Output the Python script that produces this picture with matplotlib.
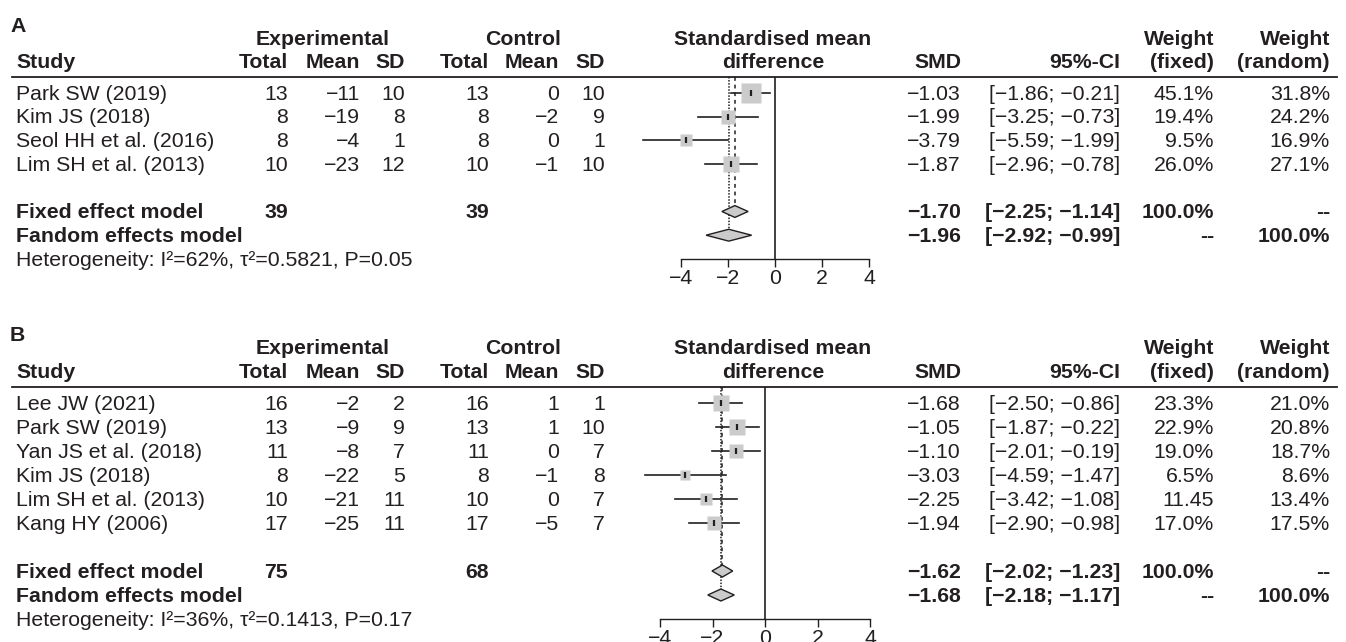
import matplotlib.pyplot as plt
import numpy as np

plt.rcParams['font.family'] = ['Liberation Sans', 'DejaVu Sans']

INK = '#231f20'
GREY = '#cbcbcb'
FS = 15.3
W, H = 1346, 642

# ---- panel A data ----
a_study = ['Park SW (2019)', 'Kim JS (2018)', 'Seol HH et al. (2016)', 'Lim SH et al. (2013)']
a_exp_n = [13, 8, 8, 10]
a_exp_mean = [-11, -19, -4, -23]
a_exp_sd = [10, 8, 1, 12]
a_ctl_n = [13, 8, 8, 10]
a_ctl_mean = [0, -2, 0, -1]
a_ctl_sd = [10, 9, 1, 10]
a_smd = [-1.03, -1.99, -3.79, -1.87]
a_lo = [-1.86, -3.25, -5.59, -2.96]
a_hi = [-0.21, -0.73, -1.99, -0.78]
a_wfix = [45.1, 19.4, 9.5, 26.0]
a_wfix_lab = ['45.1%', '19.4%', '9.5%', '26.0%']
a_wran = ['31.8%', '24.2%', '16.9%', '27.1%']
a_fixed = [-1.70, -2.25, -1.14]
a_random = [-1.96, -2.92, -0.99]
a_totals = [39, 39]
a_het = 'Heterogeneity: I\u00b2=62%, \u03c4\u00b2=0.5821, P=0.05'

# ---- panel B data ----
b_study = ['Lee JW (2021)', 'Park SW (2019)', 'Yan JS et al. (2018)', 'Kim JS (2018)',
           'Lim SH et al. (2013)', 'Kang HY (2006)']
b_exp_n = [16, 13, 11, 8, 10, 17]
b_exp_mean = [-2, -9, -8, -22, -21, -25]
b_exp_sd = [2, 9, 7, 5, 11, 11]
b_ctl_n = [16, 13, 11, 8, 10, 17]
b_ctl_mean = [1, 1, 0, -1, 0, -5]
b_ctl_sd = [1, 10, 7, 8, 7, 7]
b_smd = [-1.68, -1.05, -1.10, -3.03, -2.25, -1.94]
b_lo = [-2.50, -1.87, -2.01, -4.59, -3.42, -2.90]
b_hi = [-0.86, -0.22, -0.19, -1.47, -1.08, -0.98]
b_wfix = [23.3, 22.9, 19.0, 6.5, 11.45, 17.0]
b_wfix_lab = ['23.3%', '22.9%', '19.0%', '6.5%', '11.45', '17.0%']
b_wran = ['21.0%', '20.8%', '18.7%', '8.6%', '13.4%', '17.5%']
b_fixed = [-1.62, -2.02, -1.23]
b_random = [-1.68, -2.18, -1.17]
b_totals = [75, 68]
b_het = 'Heterogeneity: I\u00b2=36%, \u03c4\u00b2=0.1413, P=0.17'

fig = plt.figure(figsize=(W / 100, H / 100), dpi=100)


def add_ax(x0, x1, y0, y1):
    return fig.add_axes([x0 / W, 1 - y1 / H, (x1 - x0) / W, (y1 - y0) / H])


def m(v):
    return str(v).replace('-', '\u2212')


def panel(letter, row0, step, zero_px, scale, study, en, em, esd, cn, cm, csd,
          smd, lo, hi, wfix, wfix_lab, wran, fixed, random, totals, het, sq):
    n = len(study)
    r_top, r_bot = -3.5, n + 3.5
    tab = add_ax(0, W, row0 + step * r_top, row0 + step * r_bot)
    tab.set_xlim(0, W)
    tab.set_ylim(r_bot, r_top)
    tab.axis('off')

    def t(x, r, s, ha='right', bold=False):
        tab.text(x, r + 0.05, s, ha=ha, va='center', fontsize=FS, color=INK,
                 fontweight='bold' if bold else 'normal')

    # headers
    t(10, -2.87, letter, ha='left', bold=True)
    t(323, -2.32, 'Experimental', ha='center', bold=True)
    t(523, -2.32, 'Control', ha='center', bold=True)
    t(773, -2.32, 'Standardised mean', ha='center', bold=True)
    t(773, -1.32, 'difference', ha='center', bold=True)
    t(1214, -2.32, 'Weight', bold=True)
    t(1330, -2.32, 'Weight', bold=True)
    t(16, -1.32, 'Study', ha='left', bold=True)
    for x, s in [(288, 'Total'), (360, 'Mean'), (405, 'SD'), (489, 'Total'),
                 (559, 'Mean'), (605, 'SD'), (961, 'SMD'), (1120, '95%-CI'),
                 (1214, '(fixed)'), (1330, '(random)')]:
        t(x, -1.32, s, bold=True)
    tab.plot([12, 1337], [-0.67, -0.67], color=INK, lw=1.3)

    for i in range(n):
        t(16, i, study[i], ha='left')
        t(288, i, m(en[i]))
        t(360, i, m(em[i]))
        t(405, i, m(esd[i]))
        t(489, i, m(cn[i]))
        t(559, i, m(cm[i]))
        t(605, i, m(csd[i]))
        t(961, i, m(f'{smd[i]:.2f}'))
        t(1120, i, m(f'[{lo[i]:.2f}; {hi[i]:.2f}]'))
        t(1214, i, wfix_lab[i])
        t(1330, i, wran[i])

    rf, rr = n + 1, n + 2
    t(16, rf, 'Fixed effect model', ha='left', bold=True)
    t(288, rf, str(totals[0]), bold=True)
    t(489, rf, str(totals[1]), bold=True)
    t(961, rf, m(f'{fixed[0]:.2f}'), bold=True)
    t(1120, rf, m(f'[{fixed[1]:.2f}; {fixed[2]:.2f}]'), bold=True)
    t(1214, rf, '100.0%', bold=True)
    t(1330, rf, '--', bold=True)
    t(16, rr, 'Fandom effects model', ha='left', bold=True)
    t(961, rr, m(f'{random[0]:.2f}'), bold=True)
    t(1120, rr, m(f'[{random[1]:.2f}; {random[2]:.2f}]'), bold=True)
    t(1214, rr, '--', bold=True)
    t(1330, rr, '100.0%', bold=True)
    t(16, n + 3, het, ha='left')

    # forest
    ax = add_ax(zero_px - 6 * scale, zero_px + 6 * scale,
                row0 + step * -0.67, row0 + step * (n + 3))
    ax.set_xlim(-6, 6)
    ax.set_ylim(n + 3, -0.67)
    ax.patch.set_alpha(0)
    for s in ['top', 'left', 'right']:
        ax.spines[s].set_visible(False)
    ax.spines['bottom'].set_bounds(-4, 4)
    ax.spines['bottom'].set_color(INK)
    ax.spines['bottom'].set_linewidth(1.0)
    ax.set_yticks([])
    ax.set_xticks([-4, -2, 0, 2, 4])
    ax.set_xticklabels([m(v) for v in [-4, -2, 0, 2, 4]])
    ax.tick_params(axis='x', length=5.5, width=1.0, color=INK, labelsize=FS,
                   labelcolor=INK, pad=1.5)
    ax.axvline(0, color=INK, lw=1.2)
    ax.plot([fixed[0]] * 2, [-0.67, rf - 0.25], color=INK, lw=1.1, ls=(0, (2.5, 2.5)))
    ax.plot([random[0]] * 2, [-0.67, rr - 0.25], color=INK, lw=1.1, ls=(0, (1, 1)))
    for i in range(n):
        ax.plot([lo[i], hi[i]], [i, i], color=INK, lw=1.2, zorder=3)
        side = (sq[0] + sq[1] * np.sqrt(wfix[i])) * 0.72
        ax.plot(smd[i], i, marker='s', ms=side, mfc=GREY, mec='none', zorder=4)
        ax.plot(smd[i], i, marker='|', ms=4.5, mew=1.6, color=INK, zorder=5)
    for r, (est, l, h) in [(rf, fixed), (rr, random)]:
        ax.fill([l, est, h, est], [r, r - 0.25, r, r + 0.25], facecolor=GREY,
                edgecolor=INK, lw=1.0, zorder=4)


panel('A', 93, 23.7, 775, 23.6, a_study, a_exp_n, a_exp_mean, a_exp_sd, a_ctl_n,
      a_ctl_mean, a_ctl_sd, a_smd, a_lo, a_hi, a_wfix, a_wfix_lab, a_wran,
      a_fixed, a_random, a_totals, a_het, (4.0, 2.28))
panel('B', 403, 24.0, 765, 26.25, b_study, b_exp_n, b_exp_mean, b_exp_sd, b_ctl_n,
      b_ctl_mean, b_ctl_sd, b_smd, b_lo, b_hi, b_wfix, b_wfix_lab, b_wran,
      b_fixed, b_random, b_totals, b_het, (1.8, 2.94))

fig.savefig('out.png', dpi=100)
